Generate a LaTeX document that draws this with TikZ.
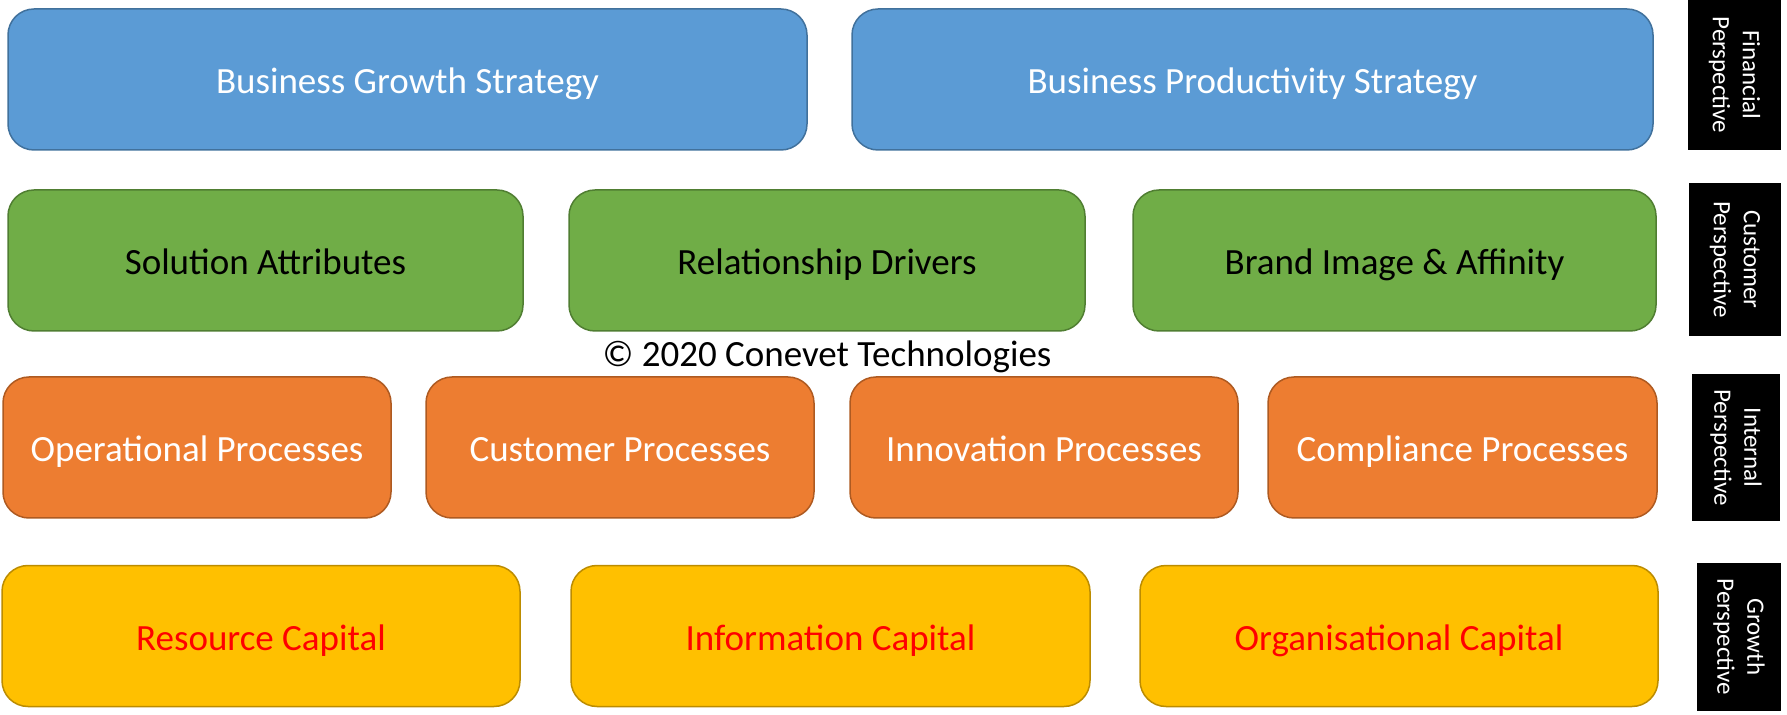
\documentclass[tikz,border=0pt]{standalone}
\usepackage{fontspec}
\setmainfont{Carlito}
\definecolor{finblue}{HTML}{5B9BD5}
\definecolor{finedge}{HTML}{41719C}
\definecolor{custgreen}{HTML}{70AD47}
\definecolor{custedge}{HTML}{507E32}
\definecolor{intorange}{HTML}{ED7D31}
\definecolor{intedge}{HTML}{AE5A21}
\definecolor{growyellow}{HTML}{FFC000}
\definecolor{growedge}{HTML}{BC8C00}
\tikzset{
  box/.style={draw, rounded corners=13pt, line width=0.75pt, minimum height=70.5pt,
    text height=18pt, text depth=4pt, font=\fontsize{18.5}{22}\selectfont},
  finbox/.style={box, fill=finblue, draw=finedge, text=white},
  custbox/.style={box, fill=custgreen, draw=custedge, text=black},
  intbox/.style={box, fill=intorange, draw=intedge, text=white},
  growbox/.style={box, fill=growyellow, draw=growedge, text=red},
  persp/.style={fill=black, text=white, rotate=-90, align=center, inner sep=0pt,
    font=\fontsize{12.5}{15}\selectfont}
}
\begin{document}
\begin{tikzpicture}[x=0.5pt, y=-0.5pt]
        \useasboundingbox (0,0) rectangle (1787,715);
        
        % Finanziaria
        \node[finbox, minimum width=399.5pt] (growth) at (407.5,79.5) {Business Growth Strategy};
        \node[finbox, minimum width=400.5pt] (prod) at (1252.5,79.5) {Business Productivity Strategy};
        
        % Cliente
        \node[custbox, minimum width=257.5pt] (solution) at (265.5,260.5) {Solution Attributes};
        \node[custbox, minimum width=258pt] (relation) at (827,260.5) {Relationship Drivers};
        \node[custbox, minimum width=261.5pt] (brand) at (1394.5,260.5) {Brand Image \& Affinity};
        
        \node[font=\fontsize{18.5}{22}\selectfont] (copy) at (827,357) {© 2020 Conevet Technologies};
        
        % Processi interni
        \node[intbox, minimum width=194pt] (oper) at (197,447.5) {Operational Processes};
        \node[intbox, minimum width=194pt] (cust) at (620,447.5) {Customer Processes};
        \node[intbox, minimum width=194pt] (innov) at (1044,447.5) {Innovation Processes};
        \node[intbox, minimum width=194.5pt] (compl) at (1462.5,447.5) {Compliance Processes};
        
        % Crescita
        \node[growbox, minimum width=259pt] (resource) at (261,636) {Resource Capital};
        \node[growbox, minimum width=259.5pt] (info) at (830.5,636) {Information Capital};
        \node[growbox, minimum width=259pt] (organ) at (1399,636) {Organisational Capital};
        
        % Prospettive
        \node[persp, minimum width=75pt, minimum height=46.5pt] (pfin) at (1734.5,75) {Financial\\Perspective};
        \node[persp, minimum width=76.5pt, minimum height=46pt] (pcust) at (1735,259.5) {Customer\\Perspective};
        \node[persp, minimum width=73.5pt, minimum height=44pt] (pint) at (1736,447.5) {Internal\\Perspective};
        \node[persp, minimum width=74pt, minimum height=42pt] (pgrow) at (1739,637) {Growth\\Perspective};
    \end{tikzpicture}
\end{document}
